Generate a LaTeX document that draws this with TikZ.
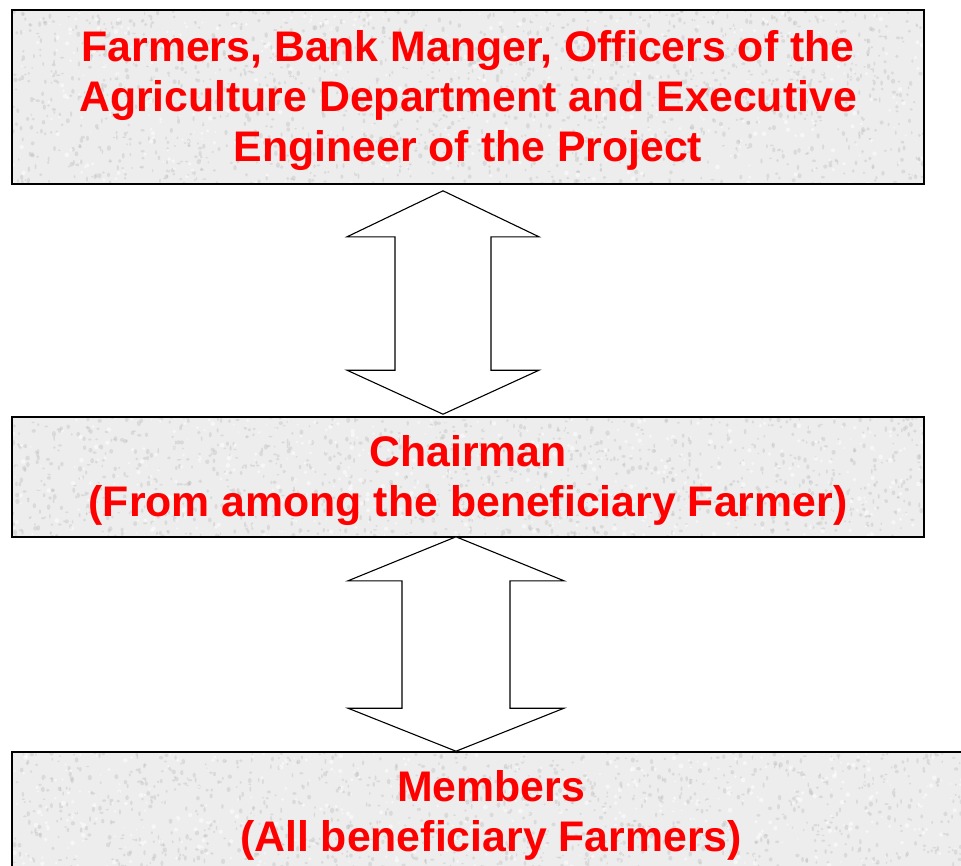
\documentclass[tikz,border=0pt]{standalone}
\usepackage{fontspec}
\setmainfont{Liberation Sans}
\usetikzlibrary{calc, backgrounds}

\begin{document}
\begin{tikzpicture}[x=1pt, y=-1pt,
        level/.style={draw, line width=1.6pt, text=red, align=center, inner sep=0pt,
            font=\bfseries\fontsize{42.8}{50}\selectfont},
        twoway/.style={draw, line width=1.1pt, fill=white, line join=miter},
        grain/.style={fill=black!28, opacity=.35},
        shine/.style={fill=white, opacity=.5}
    ]
    \pgfmathsetseed{11}
    \useasboundingbox (0,0) rectangle (961,865);

    % Top level
    \node[level, minimum width=912pt, minimum height=174pt] (board) at (468,97) {
        \rule{0pt}{38pt}Farmers, Bank Manger, Officers of the\\
        Agriculture Department and Executive\\
        Engineer of the Project
    };

    % Middle level
    \node[level, minimum width=912pt, minimum height=120pt] (chair) at (468,477) {
        \rule{0pt}{38pt}Chairman\\
        (From among the beneficiary Farmer)
    };

    % Bottom level
    \node[level, minimum width=958pt, minimum height=120pt] (members) at (491,812) {
        \rule{0pt}{38pt}Members\\
        (All beneficiary Farmers)
    };

    % Stone texture behind the boxes
    \begin{scope}[on background layer]
        \foreach \b/\n in {board/1600, chair/1150, members/1150} {
            \fill[black!7] (\b.south west) rectangle (\b.north east);
            \begin{scope}
                \clip (\b.south west) rectangle (\b.north east);
                \foreach \i in {1,...,\n}
                    \path let \p1=(\b.south west), \p2=(\b.north east) in
                        [grain] ({\x1+rnd*(\x2-\x1)}, {\y1+rnd*(\y2-\y1)})
                        ellipse ({0.8pt+1.4pt*rnd} and {0.8pt+2pt*rnd});
                \foreach \i in {1,...,500}
                    \path let \p1=(\b.south west), \p2=(\b.north east) in
                        [shine] ({\x1+rnd*(\x2-\x1)}, {\y1+rnd*(\y2-\y1)}) circle ({0.8pt+1.6pt*rnd});
            \end{scope}
        }
    \end{scope}

    % Tips of the two-way arrows
    \coordinate (up1) at ($(board.south)+(-25,6)$);
    \coordinate (dn1) at ($(chair.north)+(-25,-2)$);
    \coordinate (up2) at ($(chair.south)+(-12,-1)$);
    \coordinate (dn2) at ($(members.north)+(-35,0)$);

    % Arrows
    \draw[twoway] (up1) -- ++(96,46) -- ++(-48,0) -- ($(dn1)+(48,-44)$) -- ++(48,0)
        -- (dn1) -- ++(-96,-44) -- ++(48,0) -- ($(up1)+(-48,46)$) -- ++(-48,0) -- cycle;
    \draw[twoway] (up2) -- ++(108,44) -- ++(-54,0) -- ($(dn2)+(54,-43)$) -- ++(54,0)
        -- (dn2) -- ++(-108,-43) -- ++(54,0) -- ($(up2)+(-54,44)$) -- ++(-54,0) -- cycle;

\end{tikzpicture}
\end{document}
